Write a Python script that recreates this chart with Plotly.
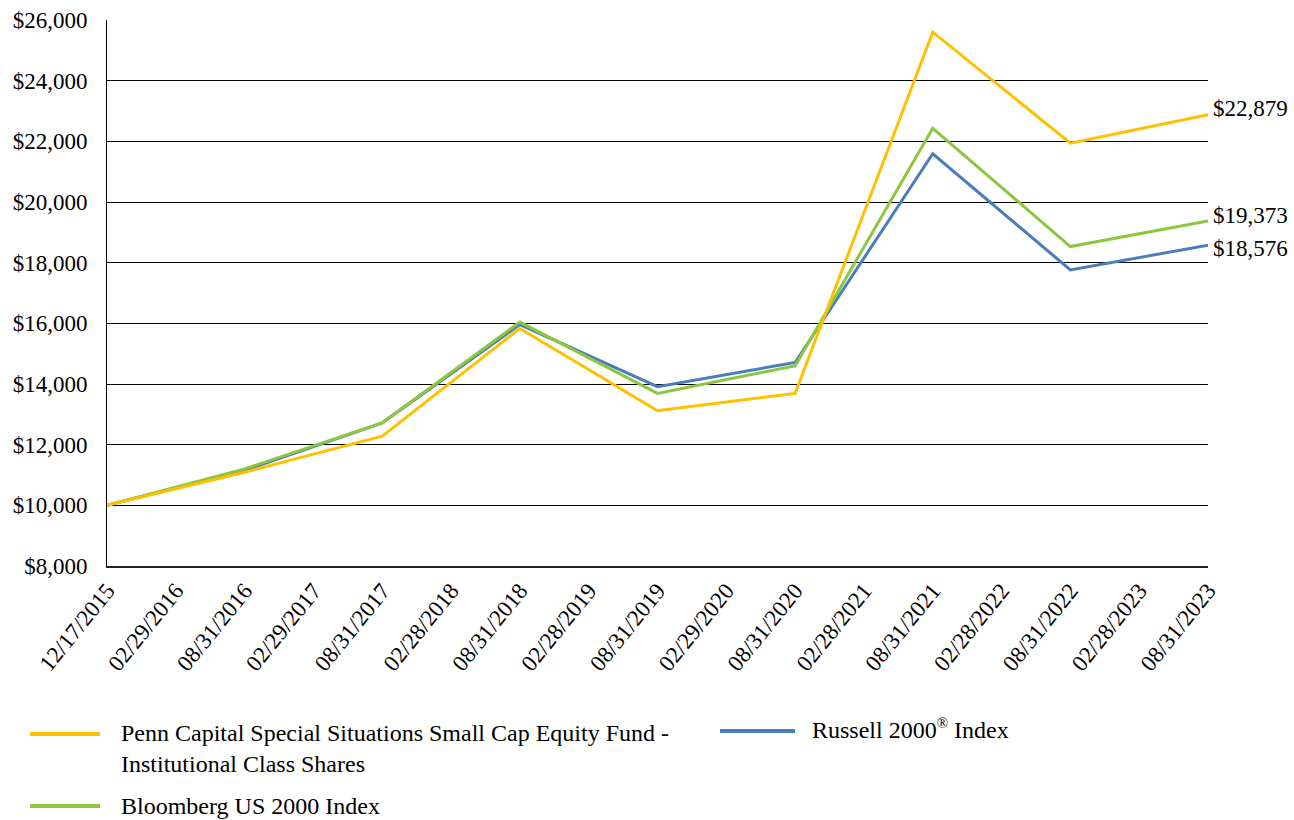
import plotly.graph_objects as go

# Growth of a $10,000 investment, valued on each tick date
tick_labels = [
    "12/17/2015", "02/29/2016", "08/31/2016", "02/29/2017", "08/31/2017",
    "02/28/2018", "08/31/2018", "02/28/2019", "08/31/2019", "02/29/2020",
    "08/31/2020", "02/28/2021", "08/31/2021", "02/28/2022", "08/31/2022",
    "02/28/2023", "08/31/2023",
]
# valuation dates (every other tick)
dates = ["12/17/2015", "08/31/2016", "08/31/2017", "08/31/2018", "08/31/2019",
         "08/31/2020", "08/31/2021", "08/31/2022", "08/31/2023"]

penn = [10000, 11090, 12280, 15830, 13120, 13690, 25600, 21940, 22879]
bloomberg = [10000, 11200, 12720, 16040, 13690, 14600, 22430, 18530, 19373]
russell = [10000, 11150, 12720, 15960, 13910, 14710, 21590, 17760, 18576]

names = [
    "Penn Capital Special Situations Small Cap Equity Fund -<br>Institutional Class Shares",
    "Bloomberg US 2000 Index",
    "Russell 2000<sup><span style='font-size:15px'>®</span></sup> Index",
]
colors = ["#FFC000", "#8DC63F", "#4A7EBB"]

FONT = "Liberation Serif, Times New Roman, serif"
FS = 23
LEG_FS = 24

# plot area in pixels
L, R, T, B = 107, 1208, 20, 566
W, H = 1294, 820

def px(x):
    return (x - L) / (R - L)

def py(y):
    return (B - y) / (B - T)

x_pos = [tick_labels.index(d) for d in dates]

fig = go.Figure()
series = [penn, bloomberg, russell]
# draw order: fund last so it sits on top
for vals, name, col in [(russell, names[2], colors[2]),
                        (bloomberg, names[1], colors[1]),
                        (penn, names[0], colors[0])]:
    fig.add_trace(go.Scatter(x=x_pos, y=vals, mode="lines", name=name,
                             line=dict(color=col, width=3),
                             showlegend=False, hoverinfo="skip"))

# ending values next to the last point
end_shift = {0: 6, 1: 6, 2: -3}
for i, vals in enumerate(series):
    fig.add_annotation(x=x_pos[-1], y=vals[-1], xref="x", yref="y",
                       text=f"${vals[-1]:,}", showarrow=False,
                       xanchor="left", yanchor="middle", xshift=3,
                       yshift=end_shift[i],
                       font=dict(family=FONT, size=FS, color="black"))

# legend drawn as line swatches and labels below the axis
legend_items = [
    (0, 30, 100, 734, 119, 748),
    (1, 30, 100, 806, 119, 806),
    (2, 720, 795, 731, 810, 729),
]
for idx, x0, x1, ly, tx, ty in legend_items:
    fig.add_shape(type="line", xref="paper", yref="paper",
                  x0=px(x0), x1=px(x1), y0=py(ly), y1=py(ly),
                  line=dict(color=colors[idx], width=4))
    fig.add_annotation(xref="paper", yref="paper", x=px(tx), y=py(ty),
                       text=names[idx], showarrow=False, align="left",
                       xanchor="left", yanchor="middle",
                       font=dict(family=FONT, size=LEG_FS, color="black"))

fig.update_layout(
    width=W, height=H,
    margin=dict(l=L, r=W - R, t=T, b=H - B, autoexpand=False),
    paper_bgcolor="white", plot_bgcolor="white",
    font=dict(family=FONT, size=FS, color="black"),
    xaxis=dict(
        range=[0, len(tick_labels) - 1],
        tickmode="array",
        tickvals=list(range(len(tick_labels))),
        ticktext=tick_labels,
        tickangle=-51,
        showgrid=False, zeroline=False,
        showline=True, linecolor="#222", linewidth=2,
        ticks="", automargin=False,
        tickfont=dict(family=FONT, size=FS, color="black"),
    ),
    yaxis=dict(
        range=[8000, 26000], dtick=2000, tick0=8000,
        tickprefix="$", tickformat=",",
        showgrid=True, gridcolor="black", gridwidth=1,
        zeroline=False, showline=True, linecolor="black", linewidth=1,
        ticks="", ticklabelstandoff=14, automargin=False,
        tickfont=dict(family=FONT, size=FS, color="black"),
    ),
)

fig.write_html("out.html")
